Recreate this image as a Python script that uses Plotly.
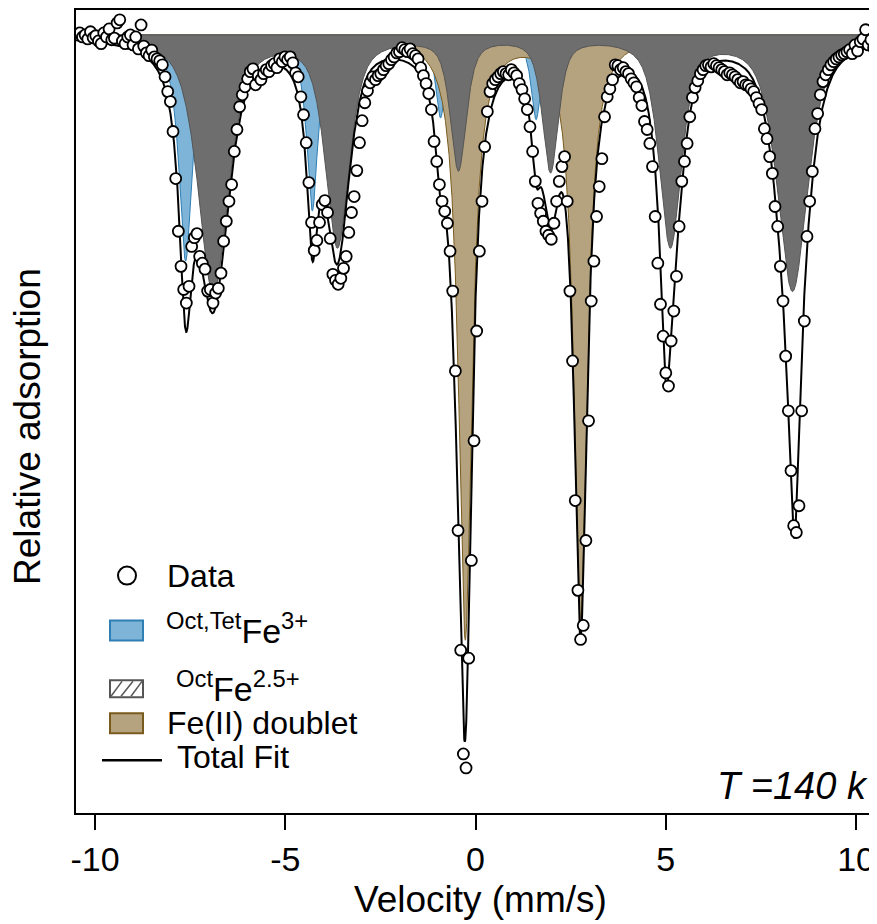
import numpy as np
import plotly.graph_objects as go

# Mossbauer spectrum, T = 140 K
# velocity of each channel (mm/s)
VELOCITY = [
    -10.40, -10.33, -10.26, -10.19, -10.12, -10.05, -9.98, -9.91, -9.84, -9.77,
    -9.70, -9.63, -9.56, -9.49, -9.42, -9.35, -9.28, -9.21, -9.14, -9.07,
    -9.00, -8.93, -8.86, -8.79, -8.72, -8.65, -8.58, -8.51, -8.44, -8.37,
    -8.30, -8.23, -8.16, -8.09, -8.02, -7.95, -7.88, -7.81, -7.74, -7.67,
    -7.60, -7.53, -7.46, -7.39, -7.32, -7.25, -7.18, -7.11, -7.04, -6.97,
    -6.90, -6.83, -6.76, -6.69, -6.62, -6.55, -6.48, -6.41, -6.34, -6.27,
    -6.20, -6.13, -6.06, -5.99, -5.92, -5.85, -5.78, -5.71, -5.64, -5.57,
    -5.50, -5.43, -5.36, -5.29, -5.22, -5.15, -5.08, -5.01, -4.94, -4.87,
    -4.80, -4.73, -4.66, -4.59, -4.52, -4.45, -4.38, -4.31, -4.24, -4.17,
    -4.10, -4.03, -3.96, -3.89, -3.82, -3.75, -3.68, -3.61, -3.54, -3.47,
    -3.40, -3.33, -3.26, -3.19, -3.12, -3.05, -2.98, -2.91, -2.84, -2.77,
    -2.70, -2.63, -2.56, -2.49, -2.42, -2.35, -2.28, -2.21, -2.14, -2.07,
    -2.00, -1.93, -1.86, -1.79, -1.72, -1.65, -1.58, -1.51, -1.44, -1.37,
    -1.30, -1.23, -1.16, -1.09, -1.02, -0.95, -0.88, -0.81, -0.74, -0.67,
    -0.60, -0.53, -0.46, -0.39, -0.32, -0.25, -0.18, -0.11, -0.04, 0.03,
    0.10, 0.17, 0.24, 0.31, 0.38, 0.45, 0.52, 0.59, 0.66, 0.73,
    0.80, 0.87, 0.94, 1.01, 1.08, 1.15, 1.22, 1.29, 1.36, 1.43,
    1.50, 1.57, 1.64, 1.71, 1.78, 1.85, 1.92, 1.99, 2.06, 2.13,
    2.20, 2.27, 2.34, 2.41, 2.48, 2.55, 2.62, 2.69, 2.76, 2.83,
    2.90, 2.97, 3.04, 3.11, 3.18, 3.25, 3.32, 3.39, 3.46, 3.53,
    3.60, 3.67, 3.74, 3.81, 3.88, 3.95, 4.02, 4.09, 4.16, 4.23,
    4.30, 4.37, 4.44, 4.51, 4.58, 4.65, 4.72, 4.79, 4.86, 4.93,
    5.00, 5.07, 5.14, 5.21, 5.28, 5.35, 5.42, 5.49, 5.56, 5.63,
    5.70, 5.77, 5.84, 5.91, 5.98, 6.05, 6.12, 6.19, 6.26, 6.33,
    6.40, 6.47, 6.54, 6.61, 6.68, 6.75, 6.82, 6.89, 6.96, 7.03,
    7.10, 7.17, 7.24, 7.31, 7.38, 7.45, 7.52, 7.59, 7.66, 7.73,
    7.80, 7.87, 7.94, 8.01, 8.08, 8.15, 8.22, 8.29, 8.36, 8.43,
    8.50, 8.57, 8.64, 8.71, 8.78, 8.85, 8.92, 8.99, 9.06, 9.13,
    9.20, 9.27, 9.34, 9.41, 9.48, 9.55, 9.62, 9.69, 9.76, 9.83,
    9.90, 9.97, 10.04, 10.11, 10.18, 10.25, 10.32, 10.39, 10.46, 10.53,
]

# measured relative transmission (%)
COUNTS = [
    100.05, 99.95, 100.00, 99.90, 100.08, 99.93, 99.98, 99.85, 99.78, 100.05,
    99.95, 100.15, 99.88, 99.92, 100.30, 100.38, 99.85, 99.78, 99.95, 100.00,
    99.75, 99.95, 99.65, 100.25, 99.72, 99.55, 99.48, 99.62, 99.45, 99.40,
    99.35, 99.25, 98.95, 98.58, 98.33, 97.58, 96.40, 95.08, 94.20, 93.62,
    93.28, 93.70, 94.70, 94.92, 95.02, 94.45, 94.28, 94.13, 93.58, 93.62,
    93.28, 93.53, 93.65, 94.03, 94.83, 95.33, 95.83, 96.25, 97.08, 97.63,
    98.20, 98.50, 98.70, 98.90, 99.08, 99.15, 98.75, 98.98, 98.88, 99.03,
    99.13, 99.08, 99.23, 99.28, 99.18, 99.40, 99.33, 99.45, 99.38, 99.45,
    99.30, 99.05, 98.95, 98.45, 98.00, 97.30, 96.30, 95.30, 94.60, 94.85,
    95.30, 95.75, 95.85, 95.55, 94.90, 94.00, 93.85, 93.75, 93.90, 94.15,
    94.45, 95.05, 95.55, 95.95, 96.60, 97.30, 97.85, 98.30, 98.60, 98.80,
    98.95, 98.88, 98.98, 99.03, 99.13, 99.23, 99.28, 99.38, 99.45, 99.55,
    99.58, 99.68, 99.63, 99.58, 99.65, 99.53, 99.48, 99.40, 99.18, 98.98,
    98.78, 98.53, 98.13, 97.33, 96.83, 96.25, 95.83, 95.58, 95.28, 94.58,
    93.58, 91.58, 87.58, 84.58, 81.98, 81.63, 84.38, 86.83, 89.83, 92.58,
    94.58, 95.83, 97.20, 98.08, 98.58, 98.78, 98.88, 98.95, 99.03, 99.08,
    99.03, 99.00, 99.13, 99.05, 98.98, 98.78, 98.63, 98.40, 98.13, 97.70,
    97.08, 96.33, 95.78, 95.53, 95.33, 95.08, 94.98, 94.88, 95.28, 95.83,
    96.33, 96.70, 96.95, 95.83, 93.58, 91.83, 88.33, 86.08, 84.85, 85.20,
    87.33, 90.33, 93.33, 94.33, 95.45, 96.20, 96.90, 97.95, 98.45, 98.65,
    98.88, 99.25, 99.23, 99.13, 99.18, 99.08, 99.03, 98.90, 98.80, 98.70,
    98.43, 98.23, 97.83, 97.63, 97.28, 96.70, 95.45, 94.28, 93.25, 92.45,
    91.53, 91.20, 92.33, 93.08, 93.95, 95.20, 96.33, 96.83, 97.28, 97.95,
    98.43, 98.68, 98.85, 99.03, 99.13, 99.23, 99.25, 99.20, 99.28, 99.23,
    99.18, 99.13, 99.08, 99.00, 99.05, 99.00, 98.95, 98.88, 98.80, 98.83,
    98.75, 98.73, 98.65, 98.58, 98.43, 98.28, 98.13, 97.65, 97.40, 96.95,
    96.53, 95.70, 95.20, 94.20, 93.33, 91.95, 90.58, 89.08, 87.70, 87.53,
    88.20, 90.58, 92.83, 94.95, 95.83, 96.58, 97.65, 98.03, 98.50, 98.83,
    99.00, 99.13, 99.25, 99.33, 99.40, 99.45, 99.50, 99.53, 99.58, 99.63,
    99.53, 99.75, 99.60, 99.83, 99.90, 100.13, 99.75, 99.88, 99.68, 99.78,
]

# fitted sub-spectra: line position (mm/s), depth (%), FWHM (mm/s)
FE3_POS = [-7.62, -4.29, -0.92, 1.59, 5.00, 8.38]
FE3_DEPTH = [5.65, 4.38, 2.05, 2.10, 3.80, 6.20]
FE3_WIDTH = [0.42, 0.36, 0.32, 0.32, 0.30, 0.34]

FE25_POS = [-6.89, -3.63, -0.45, 1.97, 5.12, 8.33]
FE25_DEPTH = [6.43, 5.23, 3.30, 3.35, 5.23, 6.38]
FE25_WIDTH = [0.95, 0.75, 0.50, 0.50, 0.70, 0.95]

FE2_POS = [-0.27, 2.76]
FE2_DEPTH = [15.10, 14.60]
FE2_WIDTH = [0.42, 0.42]

TICKS = [-10, -5, 0, 5, 10]
TICK_TEXT = ['-10', '-5', '0', '5', '10']

# the page body adds an 8 px margin, so the figure is laid out 8 px smaller
PAGE = 8
W, H = 877 - PAGE, 924 - PAGE
ML, MR, MT, MB = 68, 0, 0, 111
PW, PH = W - ML - MR, H - MT - MB
FONT = 'Liberation Sans, Arial, sans-serif'

BLUE, BLUE_EDGE = '#7db4d8', '#2f7fb5'
TAN, TAN_EDGE = '#b5a27e', '#7a5b1e'
GREY, GREY_EDGE = '#6e6e6e', '#555555'


def px(x):
    # screen pixel -> paper x
    return (x - PAGE - ML) / PW


def py(y):
    # screen pixel -> paper y
    return (H - MB - (y - PAGE)) / PH


def profile(v, pos, depth, width, eta):
    # pseudo-Voigt line shape, eta = Lorentzian fraction
    out = np.zeros_like(v)
    for p, d, w in zip(pos, depth, width):
        u = (v - p) / (w / 2)
        out += d * (eta / (1 + u ** 2) + (1 - eta) * np.exp(-np.log(2) * u ** 2))
    return out


grid = np.linspace(-10.5, 10.55, 6001)
fe3 = profile(grid, FE3_POS, FE3_DEPTH, FE3_WIDTH, 1.0)
fe25 = profile(grid, FE25_POS, FE25_DEPTH, FE25_WIDTH, 0.65)
fe2 = profile(grid, FE2_POS, FE2_DEPTH, FE2_WIDTH, 1.0)
total = 100 - (fe3 + fe25 + fe2)

fig = go.Figure()


def add_fill(comp, fill, edge):
    fig.add_trace(go.Scatter(
        x=np.concatenate([grid, [grid[-1], grid[0]]]),
        y=np.concatenate([100 - comp, [100, 100]]),
        fill='toself', fillcolor=fill, mode='lines',
        line=dict(color=edge, width=1), hoverinfo='skip', showlegend=False))


add_fill(fe3, BLUE, BLUE_EDGE)
add_fill(fe2, TAN, TAN_EDGE)
add_fill(fe25, GREY, GREY_EDGE)

fig.add_trace(go.Scatter(x=grid, y=total, mode='lines',
                         line=dict(color='black', width=2), showlegend=False))
fig.add_trace(go.Scatter(x=VELOCITY, y=COUNTS, mode='markers',
                         marker=dict(size=11, color='white', line=dict(color='black', width=1.8)),
                         showlegend=False))

# hand-placed legend
shapes = [
    dict(type='circle', x0=px(118), x1=px(136), y0=py(584), y1=py(566),
         line=dict(color='black', width=2), fillcolor='white'),
    dict(type='rect', x0=px(110), x1=px(143), y0=py(640), y1=py(620),
         line=dict(color=BLUE_EDGE, width=2), fillcolor=BLUE),
    dict(type='rect', x0=px(110), x1=px(143), y0=py(697), y1=py(680),
         line=dict(color=GREY_EDGE, width=2), fillcolor='white'),
    dict(type='rect', x0=px(110), x1=px(143), y0=py(733), y1=py(713),
         line=dict(color=TAN_EDGE, width=2), fillcolor=TAN),
    dict(type='line', x0=px(102), x1=px(162), y0=py(760), y1=py(760),
         line=dict(color='black', width=2.5)),
]
for a, b in [(111, 122), (121, 133), (131, 142)]:
    shapes.append(dict(type='line', x0=px(a), x1=px(b), y0=py(696), y1=py(681),
                       line=dict(color=GREY_EDGE, width=1.5)))
for s in shapes:
    s.update(xref='paper', yref='paper')


def note(text, x, y, size, anchor='left', angle=0):
    return dict(text=text, xref='paper', yref='paper', x=px(x), y=py(y), showarrow=False,
                xanchor=anchor, yanchor='middle', textangle=angle,
                font=dict(family=FONT, size=size, color='black'))


annotations = [
    note('Data', 165, 575, 32),
    note('<sup>Oct,Tet</sup>Fe<sup>3+</sup>', 164, 628, 34),
    note('<sup>Oct</sup>Fe<sup>2.5+</sup>', 174, 686, 34),
    note('Fe(II) doublet', 165, 723, 32),
    note('Total Fit', 175, 757, 32),
    note('<i>T =140 k</i>', 870, 786, 38, anchor='right'),
    note('Velocity (mm/s)', 480, 900, 37, anchor='center'),
    note('Relative adsorption', 28, 426, 37, anchor='center', angle=-90),
]

fig.update_layout(
    width=W, height=H, margin=dict(l=ML, r=MR, t=MT, b=MB),
    paper_bgcolor='white', plot_bgcolor='white',
    shapes=shapes, annotations=annotations,
    xaxis=dict(range=[-10.5, 10.55], tickvals=TICKS, ticktext=TICK_TEXT, ticks='outside',
               ticklen=15, tickwidth=2, tickcolor='black', showline=True, linewidth=2,
               linecolor='black', mirror=True, showgrid=False, zeroline=False,
               tickfont=dict(family=FONT, size=34, color='black')),
    yaxis=dict(range=[80.5, 100.625], showticklabels=False, ticks='', showline=True,
               linewidth=2, linecolor='black', showgrid=False, zeroline=False),
)

fig.write_html('out.html')
